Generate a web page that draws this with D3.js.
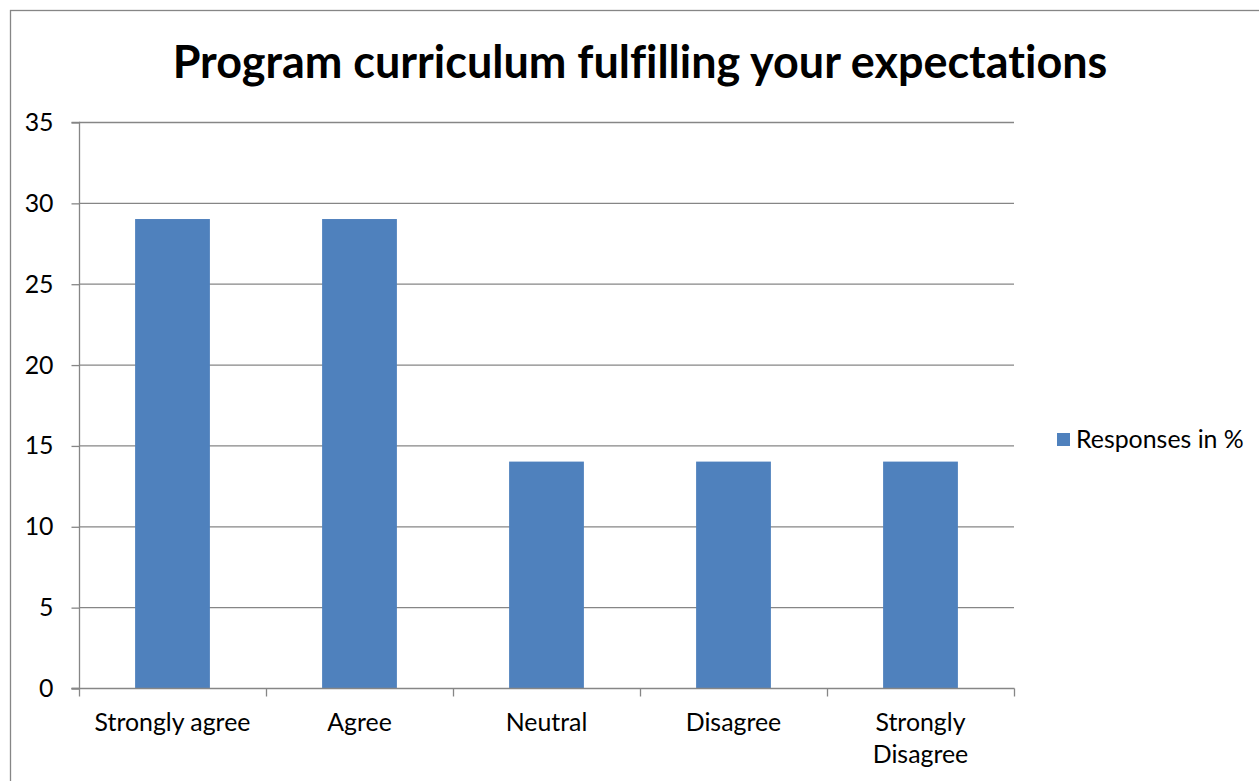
<!DOCTYPE html>
<html><head><meta charset="utf-8">
<script src="https://cdn.jsdelivr.net/npm/d3@7"></script>
<style>body{margin:0;background:#fff}svg{display:block}text{font-variant-ligatures:none}</style>
</head><body>
<svg id="c" width="1259" height="781"></svg>
<script>
const categories = ["Strongly agree", "Agree", "Neutral", "Disagree", "Strongly Disagree"];
const values = [29, 29, 14, 14, 14];
const yTicks = [0, 5, 10, 15, 20, 25, 30, 35];
const seriesName = "Responses in %";
const title = "Program curriculum fulfilling your expectations";

const svg = d3.select("#c");
const font = "Lato, 'Open Sans', 'Liberation Sans', sans-serif";
const pLeft = 79, pRight = 1014, pTop = 122, pBottom = 688;

// calibrate font size so "Strongly agree" is ~156px wide as in reference
const probe = svg.append("text").attr("font-family", font).attr("font-size", 20).text("Strongly agree");
const fs = 20 * 156 / probe.node().getComputedTextLength();
probe.remove();

svg.append("rect").attr("x", 10.5).attr("y", 10.5).attr("width", 1260).attr("height", 780)
  .attr("fill", "#fff").attr("stroke", "#868686").attr("stroke-width", 1.3);

const x = d3.scaleBand().domain(categories).range([pLeft, pRight]).paddingInner(0.6).paddingOuter(0.3);
const y = d3.scaleLinear().domain([0, 35]).range([pBottom, pTop]);

// gridlines
svg.append("g").selectAll("line").data(yTicks.filter(d => d > 0)).join("line")
  .attr("x1", pLeft).attr("x2", pRight).attr("y1", d => y(d) + 0.5).attr("y2", d => y(d) + 0.5)
  .attr("stroke", "#868686").attr("stroke-width", 1.3);

// bars
svg.append("g").selectAll("rect").data(values).join("rect")
  .attr("x", (d, i) => x(categories[i])).attr("width", x.bandwidth())
  .attr("y", d => y(d)).attr("height", d => y(0) - y(d))
  .attr("fill", "#4F81BD");

// y axis
const ya = svg.append("g").attr("transform", `translate(${pLeft + 0.5},0.5)`)
  .call(d3.axisLeft(y).tickValues(yTicks).tickSize(8).tickPadding(18));
ya.select(".domain").attr("stroke", "#868686").attr("stroke-width", 1.3).attr("d", `M-8,${pTop}H0V${pBottom}H-8`);
ya.selectAll(".tick line").attr("stroke", "#868686").attr("stroke-width", 1.3);
ya.selectAll("text").attr("font-family", font).attr("font-size", fs).attr("fill", "#000");

// x axis
const xb = d3.scaleLinear().domain([0, categories.length]).range([pLeft, pRight]);
const xa = svg.append("g").attr("transform", `translate(0.5,${pBottom + 0.5})`);
xa.append("line").attr("x1", pLeft - 8).attr("x2", pRight).attr("stroke", "#868686").attr("stroke-width", 1.3);
xa.selectAll("line.t").data(d3.range(categories.length + 1)).join("line").attr("class", "t")
  .attr("x1", d => xb(d)).attr("x2", d => xb(d)).attr("y1", 0).attr("y2", 8)
  .attr("stroke", "#868686").attr("stroke-width", 1.3);
const lab = svg.append("g").selectAll("text").data(categories).join("text")
  .attr("x", d => x(d) + x.bandwidth() / 2).attr("y", 731)
  .attr("text-anchor", "middle").attr("font-family", font).attr("font-size", fs).attr("fill", "#000");
lab.each(function(d) {
  const t = d3.select(this);
  const lines = d === "Strongly Disagree" ? ["Strongly", "Disagree"] : [d];
  lines.forEach((l, i) => t.append("tspan").attr("x", t.attr("x")).attr("dy", i ? 32 : 0).text(l));
});

// title
const tt = svg.append("text").attr("x", 640).attr("y", 78).attr("text-anchor", "middle")
  .attr("font-family", font).attr("font-weight", "bold").attr("font-size", 37).attr("fill", "#000").text(title);
const w = tt.node().getComputedTextLength();
tt.attr("font-size", 37 * 935 / w);

// legend
svg.append("rect").attr("x", 1057).attr("y", 433).attr("width", 13).attr("height", 13).attr("fill", "#4F81BD");
svg.append("text").attr("x", 1076).attr("y", 448).attr("font-family", font).attr("font-size", fs).attr("fill", "#000").text(seriesName);
</script>
</body></html>
